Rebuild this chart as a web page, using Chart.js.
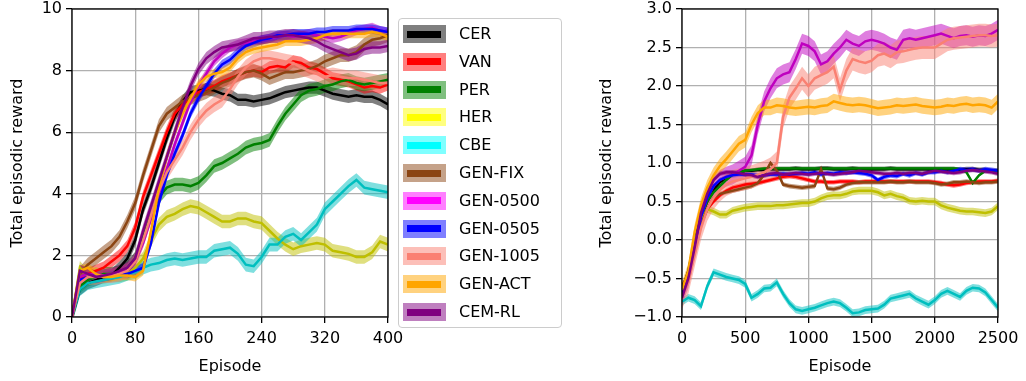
<!DOCTYPE html>
<html>
<head>
<meta charset="utf-8">
<script src="https://cdn.jsdelivr.net/npm/chart.js@4.4.0/dist/chart.umd.min.js"></script>
<style>
  body { margin: 0; background: #fff; font-family: "DejaVu Sans", sans-serif; }
  #wrap { position: relative; width: 1026px; height: 381px; overflow: hidden; }
  #left { position: absolute; left: 0; top: 0; }
  #right { position: absolute; left: 590px; top: 0; }
  #legend { position: absolute; left: 398px; top: 18px; width: 162px; height: 308px;
            border: 1px solid #cccccc; border-radius: 4px; background: rgba(255,255,255,0.8); }
  .patch { position: absolute; width: 43px; height: 18px; }
  .bar { position: absolute; width: 34px; height: 7px; }
  .lbl { position: absolute; font-size: 16px; line-height: 19px; color: #000; white-space: nowrap; }
</style>
</head>
<body>
<div id="wrap">
  <canvas id="left" width="425" height="381"></canvas>
  <canvas id="right" width="436" height="381"></canvas>
  <div id="legend"></div>
</div>
<script>
const names = ["CER", "VAN", "PER", "HER", "CBE", "GEN-FIX", "GEN-0500", "GEN-0505", "GEN-1005", "GEN-ACT", "CEM-RL"];
const lineColors = ["#000000", "#ff0000", "#008000", "#bfbf00", "#00bfbf", "#8b4513", "#bf00bf", "#0000ff", "#fa8072", "#ffa500", "#800080"];
const legendColors = ["#000000", "#ff0000", "#008000", "#ffff00", "#00ffff", "#8b4513", "#ff00ff", "#0000ff", "#fa8072", "#ffa500", "#800080"];

// left panel, episodes 0..400
const leftEpisodes = [0, 10, 20, 30, 40, 50, 60, 70, 80, 90, 100, 110, 120, 130, 140, 150, 160, 170, 180, 190, 200,
    210, 220, 230, 240, 250, 260, 270, 280, 290, 300, 310, 320, 330, 340, 350, 360, 370, 380, 390, 400];
const leftXTicks = [0, 80, 160, 240, 320, 400];
const leftYTicks = [0, 2, 4, 6, 8, 10];

const leftCER = [0, 0.9, 1.1, 1.2, 1.3, 1.35, 1.6, 1.9, 2.5, 3.5, 4.2, 5.0, 5.8, 6.5, 7.0, 7.3, 7.35, 7.4, 7.35, 7.25, 7.2, 7.05, 7.05, 7.0, 7.05, 7.1, 7.2, 7.3, 7.35, 7.4, 7.45, 7.45, 7.35, 7.25, 7.2, 7.15, 7.2, 7.15, 7.15, 7.05, 6.9];
const leftVAN = [0, 1.2, 1.4, 1.5, 1.6, 1.8, 2.0, 2.3, 2.9, 3.9, 4.6, 5.3, 6.0, 6.6, 6.9, 7.1, 7.3, 7.4, 7.5, 7.65, 7.75, 7.85, 7.95, 8.0, 7.95, 8.1, 8.15, 8.1, 8.3, 8.25, 8.1, 8.05, 7.9, 7.75, 7.7, 7.65, 7.55, 7.45, 7.5, 7.45, 7.55];
const leftPER = [0, 1.0, 1.2, 1.3, 1.4, 1.4, 1.45, 1.6, 1.9, 2.6, 3.3, 3.9, 4.2, 4.3, 4.3, 4.25, 4.35, 4.6, 4.9, 5.0, 5.15, 5.3, 5.5, 5.6, 5.65, 5.75, 6.2, 6.6, 6.9, 7.2, 7.35, 7.4, 7.5, 7.55, 7.65, 7.7, 7.6, 7.55, 7.6, 7.65, 7.7];
const leftHER = [0, 1.6, 1.3, 1.4, 1.3, 1.35, 1.35, 1.4, 1.6, 1.9, 2.5, 3.0, 3.25, 3.35, 3.5, 3.6, 3.55, 3.4, 3.25, 3.1, 3.1, 3.2, 3.2, 3.1, 3.05, 2.8, 2.55, 2.35, 2.2, 2.3, 2.35, 2.4, 2.35, 2.15, 2.1, 2.05, 1.95, 1.95, 2.1, 2.45, 2.35];
const leftCBE = [0, 0.9, 1.1, 1.15, 1.2, 1.25, 1.3, 1.4, 1.45, 1.6, 1.7, 1.75, 1.85, 1.9, 1.85, 1.9, 1.95, 1.95, 2.15, 2.2, 2.25, 2.05, 1.7, 1.65, 1.95, 2.35, 2.35, 2.6, 2.7, 2.5, 2.75, 3.0, 3.5, 3.75, 4.0, 4.25, 4.45, 4.2, 4.15, 4.1, 4.05];
const leftFIX = [0, 1.4, 1.7, 1.9, 2.1, 2.3, 2.6, 3.1, 3.7, 4.6, 5.4, 6.2, 6.6, 6.8, 7.0, 7.1, 7.2, 7.3, 7.45, 7.6, 7.7, 7.85, 7.95, 8.0, 7.9, 7.75, 7.85, 7.95, 7.95, 8.0, 8.05, 8.15, 8.3, 8.4, 8.5, 8.5, 8.6, 8.85, 9.0, 9.05, 9.15];
const left0500 = [0, 1.3, 1.4, 1.4, 1.35, 1.4, 1.45, 1.6, 1.8, 2.4, 3.2, 4.0, 4.8, 5.6, 6.3, 7.0, 7.5, 7.9, 8.3, 8.55, 8.75, 8.85, 8.9, 8.95, 9.0, 9.05, 9.1, 9.15, 9.1, 9.15, 9.2, 9.15, 9.1, 9.05, 9.1, 9.2, 9.3, 9.35, 9.4, 9.3, 9.25];
const left0505 = [0, 1.2, 1.3, 1.35, 1.3, 1.35, 1.4, 1.4, 1.5, 1.6, 2.4, 3.7, 4.6, 5.3, 5.9, 6.6, 7.1, 7.5, 7.9, 8.2, 8.35, 8.6, 8.8, 8.9, 9.0, 9.05, 9.15, 9.15, 9.2, 9.2, 9.2, 9.25, 9.25, 9.3, 9.3, 9.3, 9.35, 9.35, 9.35, 9.3, 9.25];
const left1005 = [0, 1.1, 1.3, 1.3, 1.35, 1.35, 1.4, 1.5, 1.8, 2.5, 3.3, 4.1, 4.7, 5.1, 5.5, 6.0, 6.4, 6.7, 6.9, 7.05, 7.4, 7.8, 8.1, 8.3, 8.4, 8.4, 8.35, 8.3, 8.25, 8.1, 8.0, 7.9, 7.8, 7.85, 7.8, 7.75, 7.75, 7.7, 7.65, 7.6, 7.6];
const leftACT = [0, 1.5, 1.6, 1.4, 1.3, 1.3, 1.35, 1.35, 1.3, 1.5, 2.8, 4.2, 5.2, 6.0, 6.6, 7.1, 7.55, 7.8, 7.9, 7.95, 8.1, 8.4, 8.6, 8.7, 8.75, 8.8, 8.85, 8.95, 8.95, 8.95, 9.0, 9.05, 9.15, 9.2, 9.2, 9.2, 9.2, 9.2, 9.25, 9.2, 9.1];
const leftCEM = [0, 1.5, 1.4, 1.3, 1.35, 1.4, 1.5, 1.6, 1.9, 2.8, 3.6, 4.4, 5.2, 6.0, 6.8, 7.5, 8.05, 8.4, 8.6, 8.75, 8.8, 8.85, 8.95, 9.05, 9.05, 9.1, 9.1, 9.15, 9.15, 9.1, 9.05, 8.95, 8.8, 8.7, 8.6, 8.5, 8.55, 8.7, 8.75, 8.75, 8.8];
const leftSpread = [0.2, 0.2, 0.22, 0.22, 0.22, 0.22, 0.15, 0.15, 0.25, 0.15, 0.2];

// right panel, episodes 0..2500
const rightEpisodes = [0, 50, 100, 150, 200, 250, 300, 350, 400, 450, 500, 550, 600, 650, 700, 750, 800, 850, 900, 950,
    1000, 1050, 1100, 1150, 1200, 1250, 1300, 1350, 1400, 1450, 1500, 1550, 1600, 1650, 1700, 1750, 1800, 1850, 1900, 1950,
    2000, 2050, 2100, 2150, 2200, 2250, 2300, 2350, 2400, 2450, 2500];
const rightXTicks = [0, 500, 1000, 1500, 2000, 2500];
const rightYTicks = [-1.0, -0.5, 0.0, 0.5, 1.0, 1.5, 2.0, 2.5, 3.0];

const rightCER = [-0.65, -0.4, 0.0, 0.3, 0.5, 0.65, 0.75, 0.8, 0.85, 0.88,
    0.9, 0.9, 0.91, 0.91, 0.92, 0.92, 0.92, 0.92, 0.93, 0.92,
    0.92, 0.92, 0.93, 0.93, 0.92, 0.92, 0.92, 0.93, 0.92, 0.92,
    0.92, 0.92, 0.92, 0.93, 0.92, 0.92, 0.92, 0.92, 0.92, 0.92,
    0.92, 0.92, 0.92, 0.92, 0.91, 0.92, 0.92, 0.91, 0.91, 0.9, 0.9];
const rightVAN = [-0.7, -0.45, -0.1, 0.2, 0.4, 0.5, 0.58, 0.64, 0.68, 0.7,
    0.72, 0.73, 0.74, 0.76, 0.78, 0.8, 0.82, 0.83, 0.82, 0.8,
    0.78, 0.76, 0.76, 0.75, 0.75, 0.76, 0.76, 0.76, 0.75, 0.76,
    0.76, 0.76, 0.76, 0.76, 0.76, 0.76, 0.76, 0.76, 0.76, 0.76,
    0.75, 0.74, 0.72, 0.71, 0.72, 0.74, 0.75, 0.76, 0.76, 0.76, 0.77];
const rightPER = [-0.7, -0.45, -0.05, 0.3, 0.5, 0.62, 0.7, 0.78, 0.85, 0.88,
    0.9, 0.91, 0.92, 0.93, 0.93, 0.93, 0.93, 0.93, 0.93, 0.93,
    0.93, 0.93, 0.93, 0.93, 0.93, 0.93, 0.93, 0.93, 0.93, 0.93,
    0.93, 0.93, 0.93, 0.93, 0.93, 0.93, 0.93, 0.93, 0.93, 0.93,
    0.93, 0.93, 0.93, 0.93, 0.92, 0.88, 0.74, 0.84, 0.9, 0.9, 0.9];
const rightHER = [-0.7, -0.45, -0.05, 0.25, 0.4, 0.37, 0.33, 0.33, 0.38, 0.4,
    0.42, 0.43, 0.44, 0.44, 0.44, 0.45, 0.45, 0.46, 0.47, 0.48,
    0.48, 0.5, 0.54, 0.57, 0.58, 0.58, 0.6, 0.63, 0.64, 0.64,
    0.64, 0.62, 0.58, 0.6, 0.57, 0.55, 0.51, 0.5, 0.51, 0.5,
    0.5, 0.45, 0.42, 0.4, 0.38, 0.37, 0.37, 0.36, 0.35, 0.37, 0.44];
const rightCBE = [-0.8, -0.75, -0.78, -0.86, -0.6, -0.42, -0.45, -0.48, -0.5, -0.52,
    -0.57, -0.75, -0.7, -0.63, -0.62, -0.55, -0.7, -0.82, -0.9, -0.92,
    -0.9, -0.88, -0.85, -0.82, -0.8, -0.82, -0.88, -0.95, -0.94, -0.91,
    -0.9, -0.89, -0.84, -0.76, -0.74, -0.72, -0.7, -0.76, -0.8, -0.84,
    -0.78, -0.7, -0.66, -0.7, -0.74, -0.66, -0.62, -0.63, -0.68, -0.78, -0.88];
const rightFIX = [-0.6, -0.45, -0.1, 0.2, 0.4, 0.55, 0.6, 0.62, 0.64, 0.66,
    0.68, 0.7, 0.74, 0.85, 1.0, 0.9, 0.72, 0.7, 0.69, 0.68,
    0.69, 0.7, 0.92, 0.67, 0.66, 0.68, 0.72, 0.74, 0.75, 0.75,
    0.75, 0.75, 0.75, 0.76, 0.75, 0.75, 0.76, 0.75, 0.75, 0.75,
    0.74, 0.72, 0.73, 0.75, 0.75, 0.76, 0.75, 0.74, 0.75, 0.75, 0.76];
const right0500 = [-0.7, -0.5, -0.1, 0.3, 0.55, 0.7, 0.78, 0.82, 0.85, 0.9,
    0.95, 1.1, 1.5, 1.8, 1.97, 2.1, 2.15, 2.18, 2.35, 2.55,
    2.52, 2.45, 2.28, 2.32, 2.42, 2.5, 2.6, 2.55, 2.52, 2.58,
    2.6, 2.58, 2.55, 2.5, 2.47, 2.6, 2.62, 2.6, 2.62, 2.64,
    2.66, 2.68, 2.65, 2.62, 2.65, 2.66, 2.64, 2.66, 2.65, 2.68, 2.73];
const right0505 = [-0.7, -0.5, -0.1, 0.3, 0.55, 0.7, 0.78, 0.82, 0.84, 0.85,
    0.85, 0.85, 0.84, 0.84, 0.85, 0.85, 0.86, 0.85, 0.86, 0.87,
    0.86, 0.88, 0.85, 0.87, 0.86, 0.88, 0.87, 0.88, 0.87, 0.86,
    0.84, 0.78, 0.82, 0.84, 0.83, 0.86, 0.84, 0.87, 0.85, 0.88,
    0.88, 0.9, 0.88, 0.9, 0.92, 0.91, 0.92, 0.9, 0.92, 0.91, 0.9];
const right1005 = [-0.75, -0.55, -0.2, 0.15, 0.4, 0.55, 0.65, 0.72, 0.76, 0.78,
    0.8, 0.82, 0.85, 0.88, 0.92, 1.0, 1.6, 1.85, 1.97, 2.1,
    2.0, 2.1, 2.14, 2.18, 2.25, 1.95, 2.2, 2.35, 2.32, 2.3,
    2.33, 2.4, 2.42, 2.38, 2.44, 2.45, 2.47, 2.49, 2.5, 2.5,
    2.5, 2.55, 2.6, 2.62, 2.63, 2.64, 2.65, 2.66, 2.66, 2.65, 2.66];
const rightACT = [-0.65, -0.4, 0.1, 0.45, 0.68, 0.84, 0.96, 1.05, 1.15, 1.25,
    1.3, 1.5, 1.65, 1.72, 1.72, 1.75, 1.74, 1.72, 1.71, 1.72,
    1.73, 1.72, 1.74, 1.75, 1.8, 1.78, 1.76, 1.75, 1.76, 1.75,
    1.73, 1.71, 1.72, 1.73, 1.75, 1.74, 1.75, 1.76, 1.74, 1.73,
    1.72, 1.73, 1.75, 1.74, 1.76, 1.77, 1.75, 1.76, 1.75, 1.72, 1.8];
const rightCEM = [-0.75, -0.5, -0.1, 0.35, 0.6, 0.78, 0.86, 0.88, 0.88, 0.87,
    0.85, 0.84, 0.82, 0.84, 0.86, 0.87, 0.85, 0.86, 0.87, 0.86,
    0.85, 0.86, 0.87, 0.86, 0.85, 0.86, 0.87, 0.88, 0.9, 0.89,
    0.88, 0.87, 0.86, 0.86, 0.87, 0.86, 0.87, 0.87, 0.86, 0.88,
    0.9, 0.89, 0.88, 0.87, 0.88, 0.9, 0.91, 0.9, 0.89, 0.88, 0.86];
const rightSpread = [0.03, 0.03, 0.02, 0.05, 0.05, 0.03, 0.13, 0.03, 0.15, 0.1, 0.03];

const leftSeries = [leftCER, leftVAN, leftPER, leftHER, leftCBE, leftFIX, left0500, left0505, left1005, leftACT, leftCEM];
const rightSeries = [rightCER, rightVAN, rightPER, rightHER, rightCBE, rightFIX, right0500, right0505, right1005, rightACT, rightCEM];

Chart.defaults.font.family = "'DejaVu Sans', sans-serif";
Chart.defaults.font.size = 16;
Chart.defaults.color = "#000";

function alpha(hex, a) {
    const n = parseInt(hex.slice(1), 16);
    return `rgba(${(n >> 16) & 255}, ${(n >> 8) & 255}, ${n & 255}, ${a})`;
}

function buildDatasets(episodes, series, spread) {
    const bands = [];
    const lines = [];
    const n = series.length;
    series.forEach(function(values, i) {
        const pts = (d) => values.map((v, j) => ({ x: episodes[j], y: v + d }));
        // bands sit under every line, like fill_between under plot()
        bands.push({ data: pts(-spread[i]), borderWidth: 0, pointRadius: 0, fill: false, order: 100 + (n - i) * 2 });
        bands.push({ data: pts(spread[i]), borderWidth: 0, pointRadius: 0, fill: "-1",
            backgroundColor: alpha(lineColors[i], 0.5), order: 100 + (n - i) * 2 - 1 });
        lines.push({ data: pts(0), borderColor: lineColors[i], borderWidth: 2.5, pointRadius: 0, fill: false, order: n - i });
    });
    return bands.concat(lines);
}

const framePlugin = {
    id: "frame",
    afterDatasetsDraw(chart) {
        const a = chart.chartArea;
        const ctx = chart.ctx;
        ctx.save();
        ctx.strokeStyle = "#000";
        ctx.lineWidth = 1.3;
        ctx.strokeRect(a.left, a.top, a.right - a.left, a.bottom - a.top);
        ctx.restore();
    }
};

function noPad(s) {
    s.paddingLeft = 0; s.paddingRight = 0; s.paddingTop = 0; s.paddingBottom = 0;
}

function makeChart(id, episodes, series, spread, xTicks, yTicks, yFormat, yWidth, padRight, titlePad) {
    new Chart(document.getElementById(id), {
        type: "line",
        data: { datasets: buildDatasets(episodes, series, spread) },
        plugins: [framePlugin],
        options: {
            responsive: false,
            animation: false,
            layout: { padding: { top: 9, right: padRight, left: 0, bottom: 0 } },
            plugins: { legend: { display: false }, tooltip: { enabled: false } },
            scales: {
                x: {
                    type: "linear",
                    min: xTicks[0],
                    max: xTicks[xTicks.length - 1],
                    afterBuildTicks: (s) => { s.ticks = xTicks.map(v => ({ value: v })); },
                    afterFit: (s) => { s.height = 64; noPad(s); },
                    ticks: { padding: 6, maxRotation: 0, autoSkip: false, callback: (v) => String(v) },
                    grid: { color: "#b0b0b0", lineWidth: 1.3, tickColor: "#000", tickLength: 6, tickWidth: 1.3 },
                    border: { display: false },
                    title: { display: true, text: "Episode", padding: { top: 0, bottom: 5 } }
                },
                y: {
                    type: "linear",
                    min: yTicks[0],
                    max: yTicks[yTicks.length - 1],
                    afterBuildTicks: (s) => { s.ticks = yTicks.map(v => ({ value: v })); },
                    afterFit: (s) => { s.width = yWidth; noPad(s); },
                    ticks: { padding: 4, autoSkip: false, callback: yFormat },
                    grid: { color: "#b0b0b0", lineWidth: 1.3, tickColor: "#000", tickLength: 6, tickWidth: 1.3 },
                    border: { display: false },
                    title: { display: true, text: "Total episodic reward", padding: { top: titlePad, bottom: 0 } }
                }
            }
        }
    });
}

makeChart("left", leftEpisodes, leftSeries, leftSpread, leftXTicks, leftYTicks,
    (v) => String(v), 72, 37, 8);
makeChart("right", rightEpisodes, rightSeries, rightSpread, rightXTicks, rightYTicks,
    (v) => (v < 0 ? "\u2212" : "") + Math.abs(v).toFixed(1), 92, 28, 7);

// legend between the two panels
const legendBox = document.getElementById("wrap");
names.forEach(function(name, i) {
    const cy = 34 + i * 27.8;
    const patch = document.createElement("div");
    patch.className = "patch";
    patch.style.left = "403px";
    patch.style.top = (cy - 9) + "px";
    patch.style.background = alpha(legendColors[i], 0.5);
    const bar = document.createElement("div");
    bar.className = "bar";
    bar.style.left = "407px";
    bar.style.top = (cy - 3.5) + "px";
    bar.style.background = legendColors[i];
    const lbl = document.createElement("div");
    lbl.className = "lbl";
    lbl.style.left = "459px";
    lbl.style.top = (cy - 10) + "px";
    lbl.textContent = name;
    legendBox.appendChild(patch);
    legendBox.appendChild(bar);
    legendBox.appendChild(lbl);
});
</script>
</body>
</html>
